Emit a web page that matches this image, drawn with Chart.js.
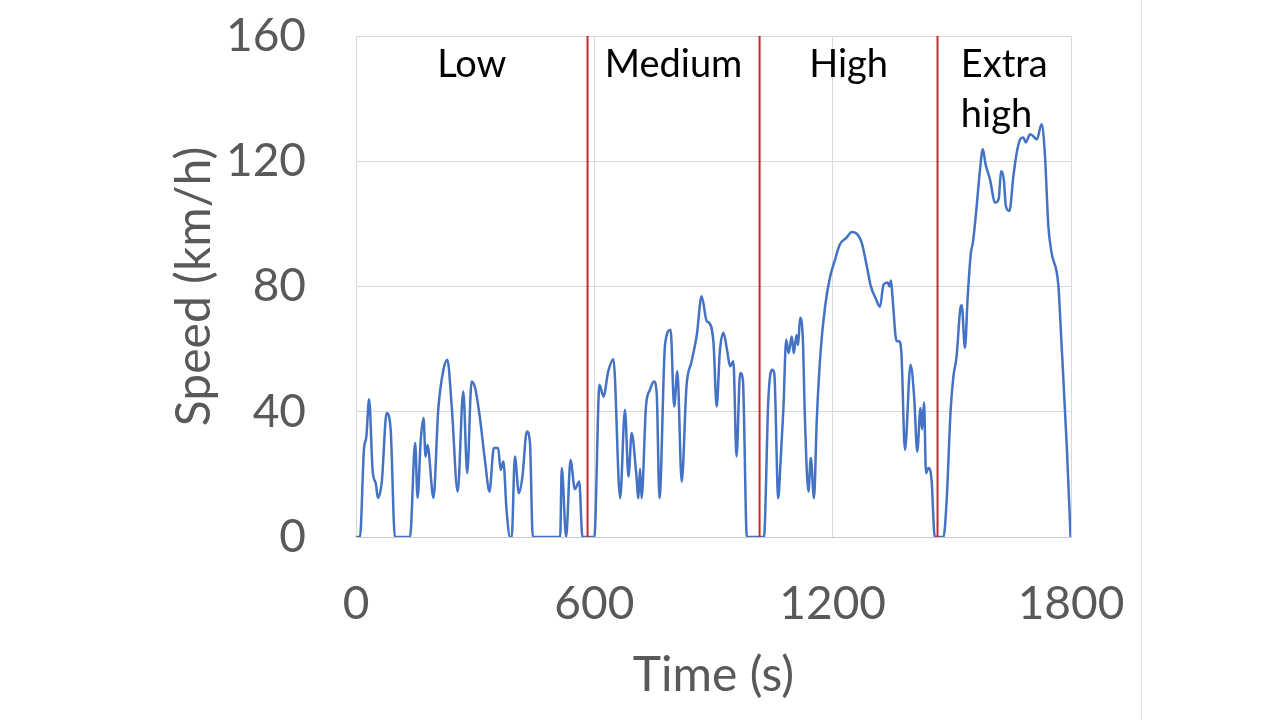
<!DOCTYPE html>
<html>
<head>
<meta charset="utf-8">
<script src="https://cdn.jsdelivr.net/npm/chart.js@4.4.0/dist/chart.umd.min.js"></script>
<style>
  html, body { margin: 0; padding: 0; background: #fff; }
  #wrap { position: relative; width: 1280px; height: 720px; }
  #edge { position: absolute; left: 1141px; top: 0; width: 1px; height: 720px; background: #e3e3e3; }
</style>
</head>
<body>
<div id="wrap">
  <canvas id="grafik" width="1280" height="720"></canvas>
  <div id="edge"></div>
</div>
<script>
// time (s) and speed (km/h)
const times = [
  0, 10, 20, 26, 33, 42, 50, 55, 65, 77, 87, 98, 136, 149, 155, 163, 170, 175, 180, 195,
  207, 220, 230, 241, 256, 270, 280, 291, 300, 312, 325, 336, 347, 358, 364, 371, 379, 388, 392, 400,
  410, 419, 430, 438, 445, 514, 518, 529, 540, 551, 562, 570, 600,
  613, 623, 635, 648, 665, 677, 686, 694, 705, 711, 715, 719, 730, 740, 750, 757, 764, 778,
  792, 801, 809, 820, 832, 845, 858, 870, 883, 889, 900, 908, 916, 925, 934, 942, 950, 958,
  967, 974, 984, 1027,
  1038, 1047, 1053, 1063, 1069, 1076, 1083, 1089, 1097, 1102, 1109, 1113, 1118, 1125, 1130, 1139,
  1145, 1153, 1160, 1170, 1181, 1193, 1206, 1218, 1235, 1248, 1259, 1273, 1286, 1296, 1309, 1319,
  1328, 1338, 1343, 1347, 1351, 1361, 1367, 1373, 1382, 1396, 1405, 1413, 1421, 1425, 1430, 1435,
  1441, 1449, 1457, 1479,
  1487, 1497, 1504, 1512, 1521, 1525, 1533, 1540, 1548, 1553, 1561, 1571, 1578, 1585, 1596, 1609,
  1618, 1624, 1631, 1636, 1645, 1655, 1665, 1673, 1680, 1686, 1697, 1705, 1714, 1726, 1734, 1743,
  1751, 1768, 1776, 1789, 1799
];
const speeds = [
  0, 0, 28, 32, 44, 21, 17, 12.5, 17.7, 39.6, 34.8, 0, 0, 30, 12.5, 31, 38, 25.7, 29.4, 12.5,
  40.6, 53.4, 56.6, 41.7, 14.5, 46.5, 20.4, 49.7, 47.6, 38, 24.1, 14.5, 28.4, 28.4, 21.4, 24.1, 8.6, 0, 0, 25.7,
  14, 19.3, 33.7, 30, 0, 0, 22, 0, 24.6, 15.3, 17.7, 0, 0,
  48.6, 44.9, 52.9, 56.8, 12.4, 40.6, 19.3, 33.2, 21, 12.4, 21.8, 12.4, 41.7, 47, 49.7, 45.9, 12.4, 61.4,
  66.2, 41.7, 52.9, 17.7, 48.1, 56.1, 64.6, 76.9, 68.9, 68.4, 62, 41.7, 59.3, 65.2, 59.8, 54.5, 56.1, 25.7,
  52.4, 50.2, 0, 0,
  43.8, 53.4, 52.3, 12.4, 24.6, 41, 63, 58.7, 64, 58.7, 64.5, 61.3, 70, 63, 38.5, 14.5,
  25.2, 12.4, 37.5, 59.8, 73.7, 82.8, 88.6, 93.4, 95.6, 97.4, 97, 94, 86.5, 80.1, 76, 73.5,
  80.6, 81.3, 80, 81.9, 76, 62.5, 62.5, 58.8, 27.8, 55, 45, 27.3, 41.2, 34.4, 43, 20.4,
  22, 18.2, 0, 0,
  11.8, 40.6, 51.3, 57.7, 72.6, 74, 60.4, 76.9, 90.8, 94, 103.6, 117.4, 123.8, 119, 114.2, 106.8,
  108, 116.9, 114, 105.7, 104.1, 115.3, 123.8, 127.2, 127.6, 126, 128.6, 128, 127, 131.8, 122.8, 99.3,
  90.8, 80.6, 62, 30, 0
];
// phase boundaries (s) and names
const phaseBounds = [0, 583, 1016, 1464, 1800];
const phaseNames = [['Low'], ['Medium'], ['High'], ['Extra', 'high']];
const xTicks = [0, 600, 1200, 1800];
const yTicks = [0, 40, 80, 120, 160];

const FONT = 'Lato';
const GREY = '#595959';

const speedPoints = times.map(function(t, i) { return { x: t, y: speeds[i] }; });

// red separators between the phases
const redSets = phaseBounds.slice(1, -1).map(function(b) {
  return {
    data: [{ x: b, y: 0 }, { x: b, y: 160 }],
    borderColor: '#c8282a',
    borderWidth: 2,
    pointRadius: 0,
    order: 0
  };
});

// phase names above the curve
const phaseLabels = {
  id: 'phaseLabels',
  afterDatasetsDraw: function(chart) {
    const c = chart.ctx;
    const xs = chart.scales.x;
    const top = chart.chartArea.top;
    c.save();
    c.font = '38px ' + FONT;
    c.fillStyle = '#000';
    c.textAlign = 'left';
    c.textBaseline = 'alphabetic';
    phaseNames.forEach(function(lines, i) {
      const mid = xs.getPixelForValue((phaseBounds[i] + phaseBounds[i + 1]) / 2);
      const w = Math.max.apply(null, lines.map(function(l) { return c.measureText(l).width; }));
      lines.forEach(function(l, k) {
        c.fillText(l, mid - w / 2, top + 41 + k * 50);
      });
    });
    c.restore();
  }
};

const ctx = document.getElementById('grafik').getContext('2d');
new Chart(ctx, {
  type: 'line',
  data: {
    datasets: [{
      data: speedPoints,
      borderColor: '#4472c4',
      borderWidth: 2.5,
      pointRadius: 0,
      cubicInterpolationMode: 'monotone',
      order: 1
    }].concat(redSets)
  },
  options: {
    responsive: false,
    animation: false,
    devicePixelRatio: 1,
    layout: { padding: { left: 0, right: 209, top: 36, bottom: 0 } },
    plugins: { legend: { display: false }, tooltip: { enabled: false } },
    scales: {
      x: {
        type: 'linear',
        min: 0, max: 1800,
        afterBuildTicks: function(s) { s.ticks = xTicks.map(function(v) { return { value: v }; }); },
        afterFit: function(s) { s.height = 183; s.paddingLeft = 0; s.paddingRight = 0; },
        grid: { color: '#d9d9d9', lineWidth: 1, drawTicks: false },
        border: { color: '#c8c8c8' },
        ticks: {
          color: GREY, font: { family: FONT, size: 46 }, padding: 40, maxRotation: 0,
          callback: function(v) { return String(v); }
        },
        title: { display: true, text: 'Time (s)', color: GREY, font: { family: FONT, size: 48 }, padding: { bottom: 16 } }
      },
      y: {
        min: 0, max: 160,
        afterBuildTicks: function(s) { s.ticks = yTicks.map(function(v) { return { value: v }; }); },
        afterFit: function(s) { s.width = 356; s.paddingTop = 0; s.paddingBottom = 0; },
        grid: { color: '#d9d9d9', lineWidth: 1, drawTicks: false },
        border: { color: '#d9d9d9' },
        ticks: {
          color: GREY, font: { family: FONT, size: 46 }, padding: 50,
          callback: function(v) { return String(v); }
        },
        title: { display: true, text: 'Speed (km/h)', color: GREY, font: { family: FONT, size: 48 }, padding: { top: 166 } }
      }
    }
  },
  plugins: [phaseLabels]
});
</script>
</body>
</html>
